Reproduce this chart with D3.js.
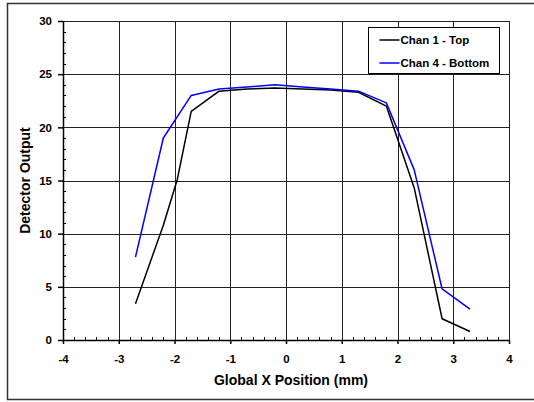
<!DOCTYPE html>
<html>
<head>
<meta charset="utf-8">
<script src="https://cdn.jsdelivr.net/npm/d3@7"></script>
<style>
  body { margin: 0; background: #fff; }
  svg { display: block; font-family: "Liberation Sans", Arial, sans-serif; }
</style>
</head>
<body>
<div id="chart"></div>
<script>
'use strict';

// data
const seriesNames = ['Chan 1 - Top', 'Chan 4 - Bottom']
const seriesColors = ['#000000', '#0000ff']
const chan1X = [-2.7, -2.45, -2.2, -1.95, -1.7, -1.2, -0.7, -0.2, 0.3, 0.8, 1.3, 1.8, 2.3, 2.8, 3.3]
const chan1Y = [3.4, 7.1, 10.8, 15.1, 21.5, 23.4, 23.6, 23.7, 23.6, 23.5, 23.3, 22.0, 14.3, 2.0, 0.8]
const chan4X = [-2.7, -2.2, -1.7, -1.2, -0.7, -0.2, 0.3, 0.8, 1.3, 1.8, 2.3, 2.8, 3.3]
const chan4Y = [7.8, 19.0, 23.0, 23.6, 23.8, 24.0, 23.8, 23.6, 23.4, 22.3, 16.0, 4.8, 2.9]
const xTicks = [-4, -3, -2, -1, 0, 1, 2, 3, 4]
const yTicks = [0, 5, 10, 15, 20, 25, 30]

const dimensions = {
  width: 534,
  height: 402,
  margin: { top: 21, bottom: 62, left: 63, right: 25 }
}
dimensions.ctrWidth = dimensions.width - dimensions.margin.left - dimensions.margin.right
dimensions.ctrHeight = dimensions.height - dimensions.margin.top - dimensions.margin.bottom

const svg = d3.select('#chart')
  .append('svg')
  .attr('width', dimensions.width)
  .attr('height', dimensions.height)

// outer frame
svg.append('rect')
  .attr('x', 7.5)
  .attr('y', 3.5)
  .attr('width', 540)
  .attr('height', 396)
  .attr('fill', 'none')
  .attr('stroke', '#333')
  .attr('stroke-width', 1.5)

const ctr = svg.append('g')
  .attr('transform', `translate(${dimensions.margin.left}, ${dimensions.margin.top})`)

const xScale = d3.scaleLinear()
  .domain([-4, 4])
  .range([0, dimensions.ctrWidth])
const yScale = d3.scaleLinear()
  .domain([0, 30])
  .range([dimensions.ctrHeight, 0])

const snap = v => Math.round(v) + 0.5

// grid
ctr.append('g')
  .selectAll('line')
  .data(xTicks.slice(1))
  .join('line')
  .attr('x1', d => snap(xScale(d)))
  .attr('x2', d => snap(xScale(d)))
  .attr('y1', 0)
  .attr('y2', dimensions.ctrHeight)
  .attr('stroke', '#222')
  .attr('stroke-width', 1)
ctr.append('g')
  .selectAll('line')
  .data(yTicks.slice(1))
  .join('line')
  .attr('x1', 0)
  .attr('x2', dimensions.ctrWidth)
  .attr('y1', d => snap(yScale(d)))
  .attr('y2', d => snap(yScale(d)))
  .attr('stroke', '#222')
  .attr('stroke-width', 1)

// minor ticks (inside)
const xMinor = d3.range(-4, 4.001, 0.2).filter(d => Math.abs(d - Math.round(d)) > 0.01)
const yMinor = d3.range(0, 30.001, 1).filter(d => d % 5 !== 0)
ctr.append('g')
  .selectAll('line')
  .data(xMinor)
  .join('line')
  .attr('x1', d => snap(xScale(d)))
  .attr('x2', d => snap(xScale(d)))
  .attr('y1', dimensions.ctrHeight)
  .attr('y2', dimensions.ctrHeight - 3)
  .attr('stroke', '#000')
ctr.append('g')
  .selectAll('line')
  .data(yMinor)
  .join('line')
  .attr('x1', 0)
  .attr('x2', 3)
  .attr('y1', d => snap(yScale(d)))
  .attr('y2', d => snap(yScale(d)))
  .attr('stroke', '#000')

// axes
const xAxis = d3.axisBottom(xScale)
  .tickValues(xTicks)
  .tickSizeInner(4)
  .tickSizeOuter(0)
  .tickPadding(11)
const xAxisGroup = ctr.append('g')
  .attr('transform', `translate(0, ${dimensions.ctrHeight})`)
  .call(xAxis)
xAxisGroup.select('.domain').attr('stroke-width', 1.5)
xAxisGroup.selectAll('.tick line').attr('stroke-width', 1.5)
xAxisGroup.selectAll('text')
  .style('font-size', '11.5px')
  .style('font-weight', 'bold')
  .attr('fill', '#000')
  .text(d => d < 0 ? '-' + Math.abs(d) : d)

const yAxis = d3.axisLeft(yScale)
  .tickValues(yTicks)
  .tickSizeInner(5)
  .tickSizeOuter(0)
  .tickPadding(6)
const yAxisGroup = ctr.append('g').call(yAxis)
yAxisGroup.select('.domain').attr('stroke-width', 1.5)
yAxisGroup.selectAll('.tick line').attr('stroke-width', 1.5)
yAxisGroup.selectAll('text')
  .style('font-size', '11.5px')
  .style('font-weight', 'bold')
  .attr('fill', '#000')

// titles
ctr.append('text')
  .attr('x', 227 - dimensions.margin.left + 64)
  .attr('y', dimensions.ctrHeight + 45)
  .attr('text-anchor', 'middle')
  .style('font-size', '14px')
  .style('font-weight', 'bold')
  .text('Global X Position (mm)')
ctr.append('text')
  .attr('transform', 'rotate(-90)')
  .attr('x', -(dimensions.ctrHeight / 2))
  .attr('y', -33)
  .attr('text-anchor', 'middle')
  .style('font-size', '14px')
  .style('font-weight', 'bold')
  .text('Detector Output')

// lines
const seriesData = [
  chan1X.map((x, i) => ({ x, y: chan1Y[i] })),
  chan4X.map((x, i) => ({ x, y: chan4Y[i] }))
]
const lineGen = d3.line()
  .x(d => xScale(d.x))
  .y(d => yScale(d.y))
ctr.append('g')
  .selectAll('path')
  .data(seriesData)
  .join('path')
  .attr('d', lineGen)
  .attr('fill', 'none')
  .attr('stroke', (d, i) => seriesColors[i])
  .attr('stroke-width', 1.5)
  .attr('stroke-linejoin', 'round')

// legend
const legend = svg.append('g')
  .attr('transform', 'translate(368.5, 27.5)')
legend.append('rect')
  .attr('width', 131)
  .attr('height', 46)
  .attr('fill', '#fff')
  .attr('stroke', '#000')
  .attr('stroke-width', 1)
const legendItems = legend.selectAll('g.item')
  .data(seriesNames)
  .join('g')
  .attr('class', 'item')
  .attr('transform', (d, i) => `translate(0, ${12.5 + i * 23})`)
legendItems.append('line')
  .attr('x1', 11)
  .attr('x2', 31)
  .attr('stroke', (d, i) => seriesColors[i])
  .attr('stroke-width', 1.5)
legendItems.append('text')
  .attr('x', 32)
  .attr('dy', '0.35em')
  .style('font-size', '11.5px')
  .style('font-weight', 'bold')
  .text(d => d)
</script>
</body>
</html>
